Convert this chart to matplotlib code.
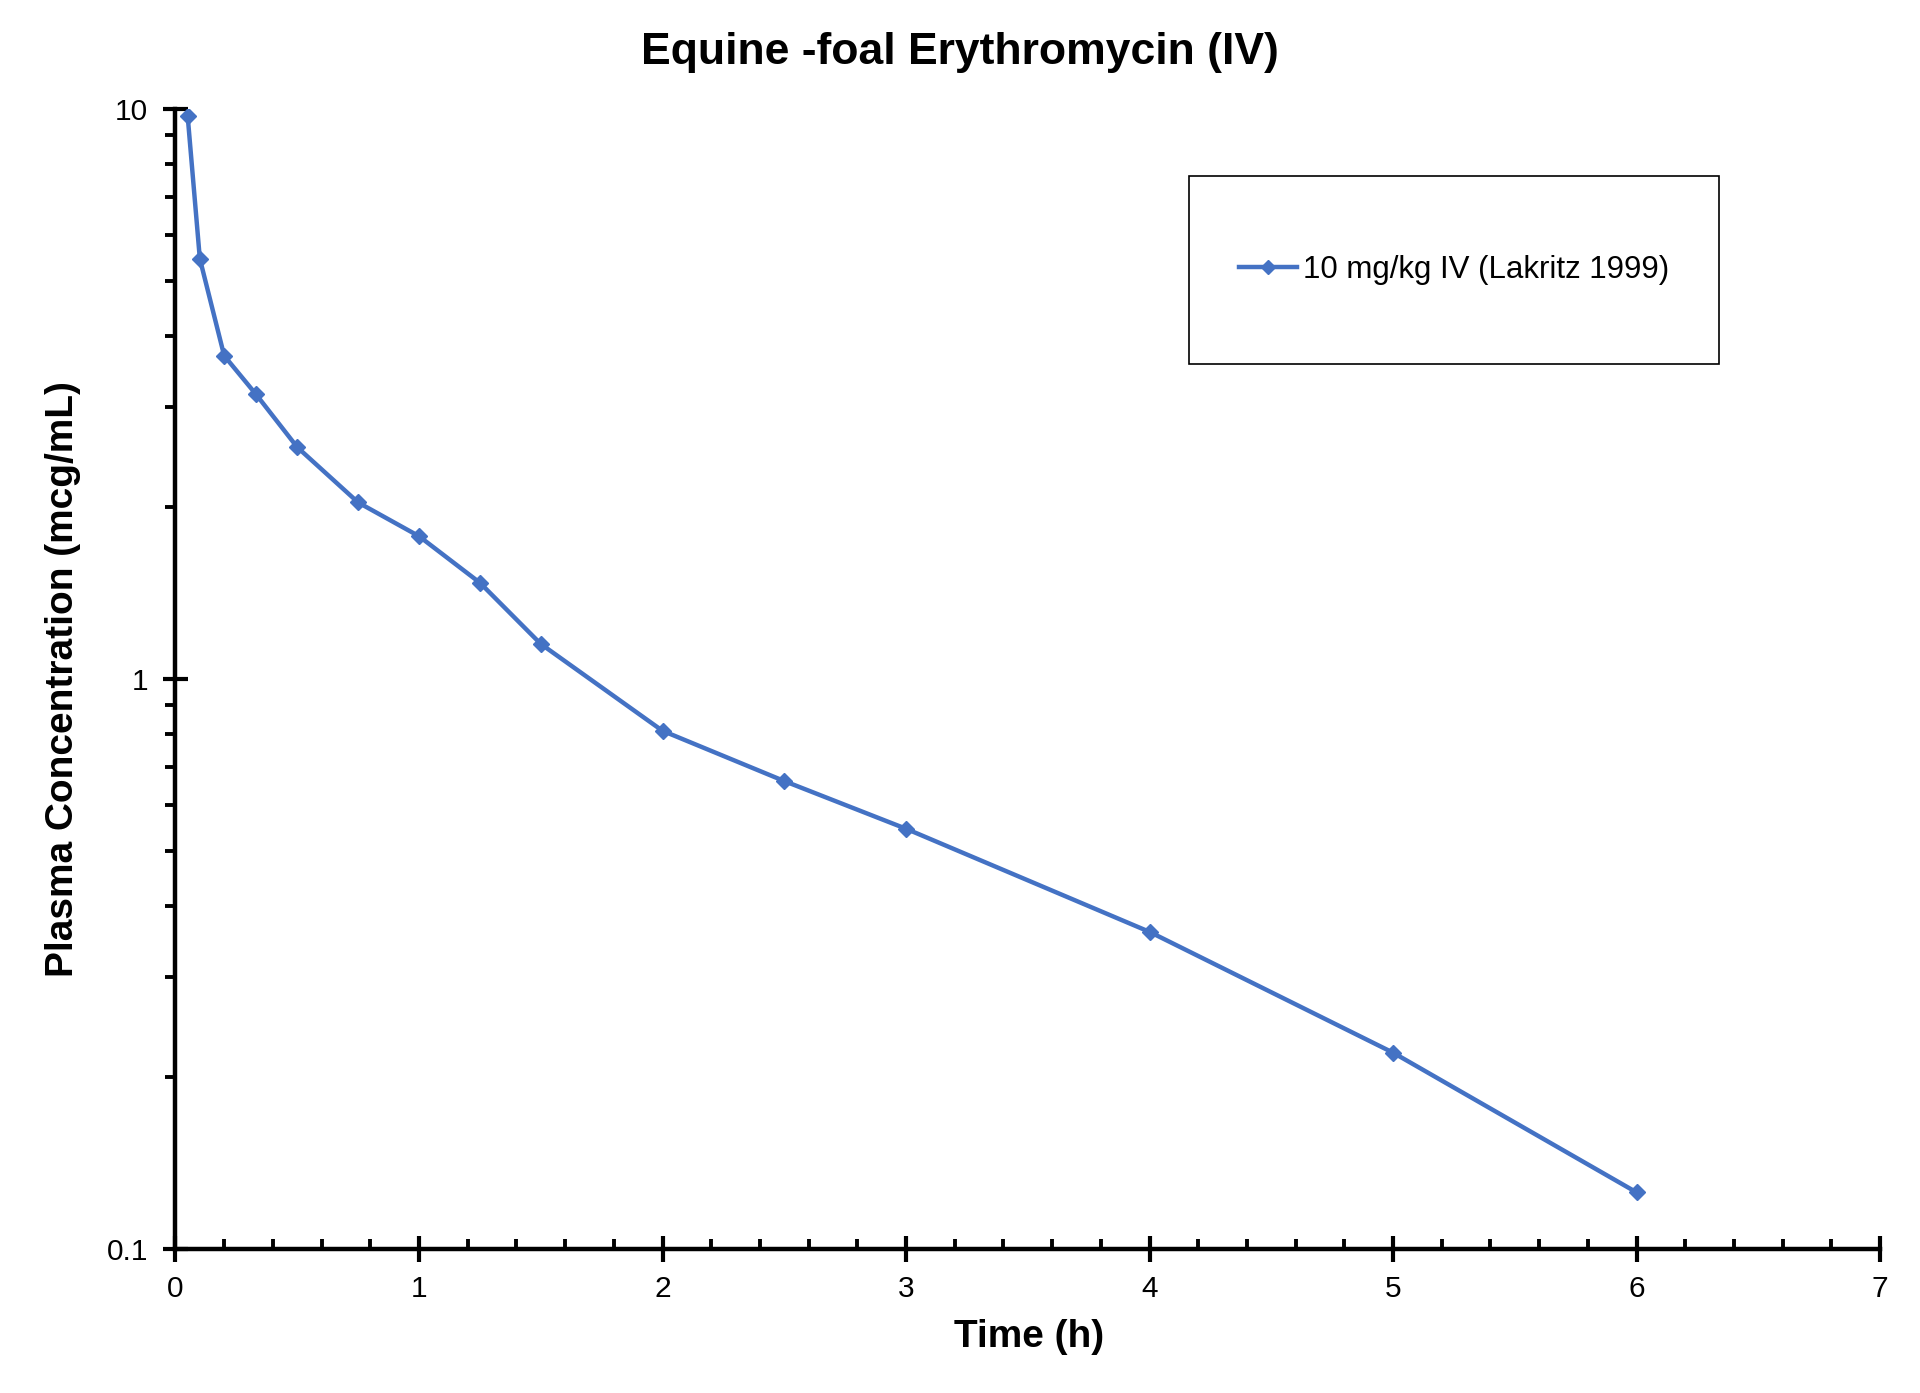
import matplotlib
matplotlib.use("Agg")
from matplotlib import pyplot as plt
from matplotlib.patches import Rectangle
from matplotlib.ticker import FixedLocator, FuncFormatter, NullFormatter, MultipleLocator

plt.rcParams['font.family'] = ['Liberation Sans', 'DejaVu Sans']

# data
time_h = [0.05, 0.1, 0.2, 0.33, 0.5, 0.75, 1.0, 1.25, 1.5, 2.0, 2.5, 3.0, 4.0, 5.0, 6.0]
conc = [9.72, 5.46, 3.69, 3.16, 2.55, 2.04, 1.78, 1.475, 1.152, 0.811, 0.662, 0.546, 0.360, 0.221, 0.1257]
series_label = "10 mg/kg IV (Lakritz 1999)"
title = "Equine -foal Erythromycin (IV)"
xlab = "Time (h)"
ylab = "Plasma Concentration (mcg/mL)"

fig = plt.figure(figsize=(19.2, 13.93), dpi=100)
ax = fig.add_axes([0.0914, 0.1034, 0.8878, 0.8184])

ax.plot(time_h, conc, color="#4472C4", lw=3.2, marker="D", markersize=8.5,
        label=series_label)

ax.set_yscale("log")
ax.set_ylim(0.1, 10)
ax.set_xlim(0, 7)

for s in ["top", "right"]:
  ax.spines[s].set_visible(False)
for s in ["left", "bottom"]:
  ax.spines[s].set_linewidth(3.2)

ax.xaxis.set_major_locator(MultipleLocator(1))
ax.xaxis.set_minor_locator(MultipleLocator(0.2))
ax.yaxis.set_major_locator(FixedLocator([0.1, 1, 10]))
ax.yaxis.set_major_formatter(FuncFormatter(lambda v, p: "%g" % v))
ax.yaxis.set_minor_formatter(NullFormatter())

ax.tick_params(axis="x", which="major", direction="inout", length=19, width=3, labelsize=21.5, pad=9)
ax.tick_params(axis="x", which="minor", direction="in", length=7, width=2.8)
ax.tick_params(axis="y", which="major", direction="inout", length=18, width=3, labelsize=21.5, pad=10.7)
ax.tick_params(axis="y", which="minor", direction="out", length=7, width=2.8)

fig.text(0.5, 0.9622, title, fontsize=32, fontweight="bold", ha="center", va="center")
ax.set_xlabel(xlab, fontsize=28, fontweight="bold")
ax.set_ylabel(ylab, fontsize=28, fontweight="bold")
ax.xaxis.label.set_va("center")
ax.yaxis.label.set_va("center")
ax.xaxis.set_label_coords(0.5005, -0.0772)
ax.yaxis.set_label_coords(-0.0657, 0.5)

# legend box
box = Rectangle((0.5946, 0.7763), 0.3109, 0.1649, transform=ax.transAxes,
                fill=False, edgecolor="black", lw=1.2, zorder=5)
ax.add_patch(box)
ax.legend(loc="center", bbox_to_anchor=(0.5946 + 0.3109 / 2, 0.7763 + 0.1649 / 2),
          frameon=False, fontsize=22.5, handlelength=1.85, handletextpad=0.2,
          markerscale=0.8)

fig.savefig("out.png", dpi=100)
